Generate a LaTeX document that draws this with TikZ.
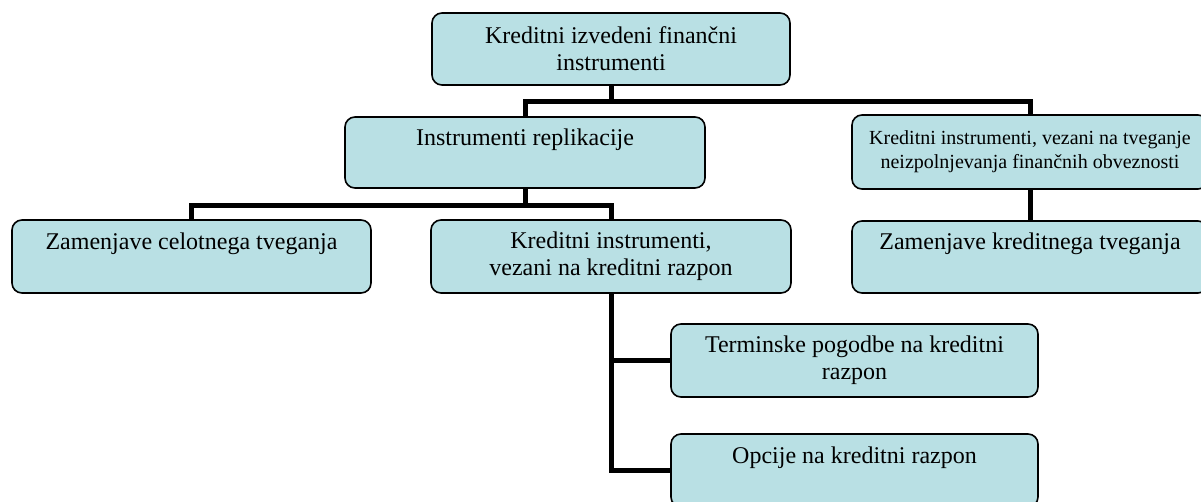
\documentclass[tikz,border=0pt]{standalone}
\usepackage{fontspec}
\setmainfont{Liberation Serif}
\usepackage{tikz}
\usetikzlibrary{positioning}
\definecolor{boxfill}{RGB}{185,224,228}
\tikzstyle{box}=[draw,rectangle,rounded corners=10pt,fill=boxfill,line width=1.6pt,minimum width=360pt,minimum height=73pt,inner sep=0pt,align=center,font=\fontsize{24}{27}\selectfont]
\tikzstyle{toptext}=[text height=17pt,text depth=32pt]
\tikzstyle{conn}=[draw,line width=5pt]

\begin{document}
\begin{tikzpicture}[x=1pt,y=-1pt]
      % \draw[help lines] (0,0) grid[step=50] (1201,501);
      \useasboundingbox (0,0) rectangle (1201,501);
      \clip (0,0) rectangle (1201,501);
      \node [box, minimum width=358pt, minimum height=72pt] (KI) at (611,49) {Kreditni izvedeni finančni\\instrumenti};
      \node [box, toptext, minimum height=71pt] (IR) at (525,152.5) {Instrumenti replikacije};
      \node [box, minimum width=356pt, minimum height=74pt, font=\fontsize{20}{24}\selectfont] (KT) at (1030,152) {Kreditni instrumenti, vezani na tveganje\\neizpolnjevanja finančnih obveznosti};
      \node [box, toptext, minimum width=359pt] (ZC) at (191.5,256.5) {Zamenjave celotnega tveganja};
      \node [box] (KR) at (611,256.5) {Kreditni instrumenti,\\vezani na kreditni razpon};
      \node [box, toptext, minimum width=356pt, minimum height=72pt] (ZK) at (1030,257) {Zamenjave kreditnega tveganja};
      \node [box, minimum width=367pt] (TP) at (854.5,360.5) {Terminske pogodbe na kreditni\\razpon};
      \node [box, toptext, minimum width=367pt] (OP) at (854.5,470.5) {Opcije na kreditni razpon};

      \draw [conn] (KI.south) -- ++(0,16) -| (IR.north);
      \draw [conn] (KI.south) -- ++(0,16) -| (KT.north);
      \draw [conn] (IR.south) -- ++(0,17) -| (ZC.north);
      \draw [conn] (IR.south) -- ++(0,17) -| (KR.north);
      \draw [conn] (KT) -- (ZK);
      \draw [conn] (KR.south) |- (TP.west);
      \draw [conn] (KR.south) |- (OP.west);
\end{tikzpicture}
\end{document}
